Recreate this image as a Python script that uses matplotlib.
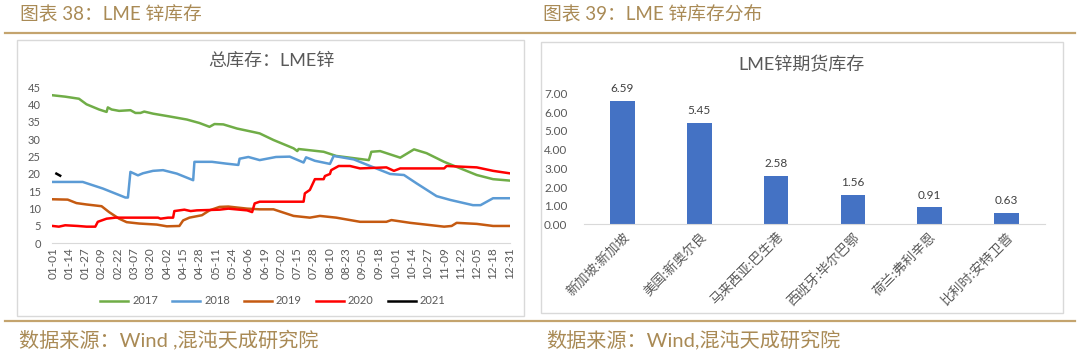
import numpy as np
import pandas as pd
import matplotlib
matplotlib.use('Agg')
import matplotlib.pyplot as plt
import matplotlib.transforms as mtrans
from matplotlib.patches import Rectangle
from matplotlib.lines import Line2D

plt.rcParams['font.family'] = ['Lato', 'Noto Sans CJK SC', 'DejaVu Sans']

# 左图：LME锌总库存（万吨），按年内第几天取的读数
day_2017 = [0, 10, 21, 27, 37, 43, 44, 47, 53, 62, 66, 70, 73, 80, 93, 107, 117, 125, 129, 136,
            147, 160, 165, 176, 192, 195, 196, 216, 226, 252, 254, 261, 277, 288, 298, 312, 325,
            338, 351, 364]
val_2017 = [42.7, 42.3, 41.7, 40.1, 38.6, 37.9, 39.2, 38.6, 38.2, 38.4, 37.6, 37.6, 38.0, 37.4,
            36.6, 35.7, 34.7, 33.6, 34.4, 34.3, 33.1, 32.1, 31.7, 29.8, 27.4, 26.6, 27.2, 26.4,
            25.2, 24.0, 26.4, 26.6, 24.7, 27.1, 26.0, 23.5, 21.6, 19.7, 18.5, 18.1]

day_2018 = [0, 24, 40, 58, 60, 62, 68, 72, 80, 88, 99, 112, 113, 127, 138, 148, 149, 156, 165,
            178, 189, 200, 202, 209, 221, 224, 240, 253, 269, 280, 290, 306, 317, 335, 341, 351, 364]
val_2018 = [17.7, 17.7, 15.8, 13.2, 13.2, 20.6, 19.6, 20.2, 20.9, 21.1, 20.1, 18.2, 23.5, 23.5,
            23.0, 22.6, 24.4, 24.9, 24.0, 24.9, 25.0, 23.3, 24.8, 23.8, 22.9, 25.2, 24.2, 22.3,
            20.0, 19.7, 17.3, 13.6, 12.5, 11.0, 11.0, 13.0, 13.0]

day_2019 = [0, 12, 19, 27, 39, 45, 53, 59, 69, 83, 91, 101, 104, 109, 119, 125, 133, 140, 155,
            165, 176, 192, 205, 213, 226, 245, 266, 270, 285, 312, 318, 322, 338, 351, 364]
val_2019 = [12.7, 12.6, 11.6, 11.2, 10.7, 9.0, 7.1, 6.1, 5.7, 5.4, 4.9, 5.0, 6.6, 7.4, 8.1, 9.5,
            10.5, 10.6, 10.0, 9.8, 9.8, 7.9, 7.4, 7.9, 7.4, 6.2, 6.2, 6.7, 5.9, 4.8, 5.0, 5.9, 5.6,
            5.0, 5.0]

day_2020 = [0, 5, 10, 20, 27, 34, 36, 43, 50, 84, 86, 92, 96, 97, 105, 110, 115, 133, 140, 155,
            159, 161, 165, 200, 201, 205, 209, 216, 217, 221, 222, 228, 237, 245, 266, 272, 277,
            312, 314, 338, 351, 364]
val_2020 = [5.0, 4.8, 5.2, 5.0, 4.8, 4.8, 6.2, 7.1, 7.4, 7.4, 7.1, 7.4, 7.4, 9.3, 9.7, 9.3, 9.5,
            9.7, 10.0, 9.5, 9.0, 11.5, 12.0, 12.0, 14.4, 15.4, 18.5, 18.5, 19.4, 20.0, 21.1, 22.3,
            22.3, 21.6, 21.9, 20.9, 21.6, 21.6, 22.3, 21.9, 20.9, 20.2]

day_2021 = [3, 4, 5, 6]
val_2021 = [20.1, 19.9, 19.7, 19.5]

# 右图：LME锌期货库存分布（万吨）
places = ['新加坡:新加坡', '美国:新奥尔良', '马来西亚:巴生港', '西班牙:毕尔巴鄂', '荷兰:弗利辛恩', '比利时:安特卫普']
stocks = [6.59, 5.45, 2.58, 1.56, 0.91, 0.63]

W, H = 1080, 353


def box(x0, y0, x1, y1):
    # 像素坐标 -> figure 坐标
    return [x0 / W, 1 - y1 / H, (x1 - x0) / W, (y1 - y0) / H]


def fx(x):
    return x / W


def fy(y):
    return 1 - y / H


GOLD = '#C4A46E'
HEAD = '#A98A55'
GREY = '#595959'
BORDER = '#D9D9D9'

fig = plt.figure(figsize=(W / 100, H / 100), dpi=100)

# 标题、分隔线、来源
fig.text(fx(20), fy(15), '图表 38：LME 锌库存', color=HEAD, fontsize=13.5, va='center', ha='left')
fig.text(fx(543), fy(15), '图表 39：LME 锌库存分布', color=HEAD, fontsize=13.5, va='center', ha='left')
fig.add_artist(Line2D([fx(5), fx(1075)], [fy(33), fy(33)], transform=fig.transFigure, color=GOLD, lw=1.6))
fig.add_artist(Line2D([fx(5), fx(1075)], [fy(321), fy(321)], transform=fig.transFigure, color=GOLD, lw=1.6))
fig.text(fx(19), fy(339), '数据来源：Wind ,混沌天成研究院', color=HEAD, fontsize=14.5, va='center', ha='left')
fig.text(fx(546), fy(339), '数据来源：Wind,混沌天成研究院', color=HEAD, fontsize=14.5, va='center', ha='left')

fig.add_artist(Rectangle((fx(17), fy(316)), 507 / W, 276 / H, transform=fig.transFigure,
                         fill=False, ec=BORDER, lw=1))
fig.add_artist(Rectangle((fx(541), fy(313)), 522 / W, 271 / H, transform=fig.transFigure,
                         fill=False, ec=BORDER, lw=1))

# ---- 左图 ----
ax1 = fig.add_axes(box(52, 87.3, 510, 243.3))
series = [
    ('2017', day_2017, val_2017, '#70AD47'),
    ('2018', day_2018, val_2018, '#5B9BD5'),
    ('2019', day_2019, val_2019, '#C55A11'),
    ('2020', day_2020, val_2020, '#FF0000'),
    ('2021', day_2021, val_2021, '#000000'),
]
for name, d, v, c in series:
    ax1.plot(d, v, color=c, lw=1.8, label=name, solid_joinstyle='round')

dates = pd.date_range('2019-01-01', '2019-12-31').strftime('%m-%d')
ticks = list(range(0, 365, 13))
ax1.set_xlim(-0.5, 364.5)
ax1.set_ylim(0, 45)
ax1.set_yticks(np.arange(0, 46, 5))
ax1.set_xticks(ticks)
ax1.set_xticklabels([dates[i] for i in ticks], rotation=90)
ax1.tick_params(axis='y', length=0, pad=8, labelsize=8, labelcolor=GREY)
ax1.tick_params(axis='x', length=0, pad=3, labelsize=8.5, labelcolor=GREY)
for s in ['top', 'right', 'left']:
    ax1.spines[s].set_visible(False)
ax1.spines['bottom'].set_color(BORDER)
ax1.patch.set_alpha(0)
fig.text(fx(271), fy(61), '总库存：LME锌', color=GREY, fontsize=13, ha='center', va='center')
fig.legend(*ax1.get_legend_handles_labels(), loc='center', bbox_to_anchor=(fx(273), fy(301)),
           ncol=5, frameon=False, fontsize=8, handlelength=2.5, columnspacing=1.3,
           handletextpad=0.35, labelcolor=GREY)

# ---- 右图 ----
ax2 = fig.add_axes(box(584, 93.5, 1045, 224.5))
x = np.arange(len(places))
bars = ax2.bar(x, stocks, width=0.32, color='#4472C4')
for b, v in zip(bars, stocks):
    ax2.annotate(f'{v:.2f}', (b.get_x() + b.get_width() / 2, v), xytext=(0, 5),
                 textcoords='offset points', ha='center', va='bottom', fontsize=8.5, color='#404040')
ax2.set_xlim(-0.5, len(places) - 0.5)
ax2.set_ylim(0, 7)
ax2.set_yticks(np.arange(0, 8, 1))
ax2.set_yticklabels([f'{t:.2f}' for t in np.arange(0, 8, 1)])
ax2.set_xticks(x)
ax2.set_xticklabels(places, rotation=45, ha='right', va='top', rotation_mode='anchor')
shift = mtrans.ScaledTranslation(0.11, 0, fig.dpi_scale_trans)
for lab in ax2.get_xticklabels():
    lab.set_transform(lab.get_transform() + shift)
ax2.tick_params(axis='y', length=0, pad=12, labelsize=8.5, labelcolor=GREY)
ax2.tick_params(axis='x', length=0, pad=4, labelsize=9.5, labelcolor=GREY)
for s in ['top', 'right', 'left']:
    ax2.spines[s].set_visible(False)
ax2.spines['bottom'].set_color(BORDER)
ax2.patch.set_alpha(0)
fig.text(fx(801), fy(65), 'LME锌期货库存', color=GREY, fontsize=13, ha='center', va='center')

fig.savefig('out.png', dpi=100)
